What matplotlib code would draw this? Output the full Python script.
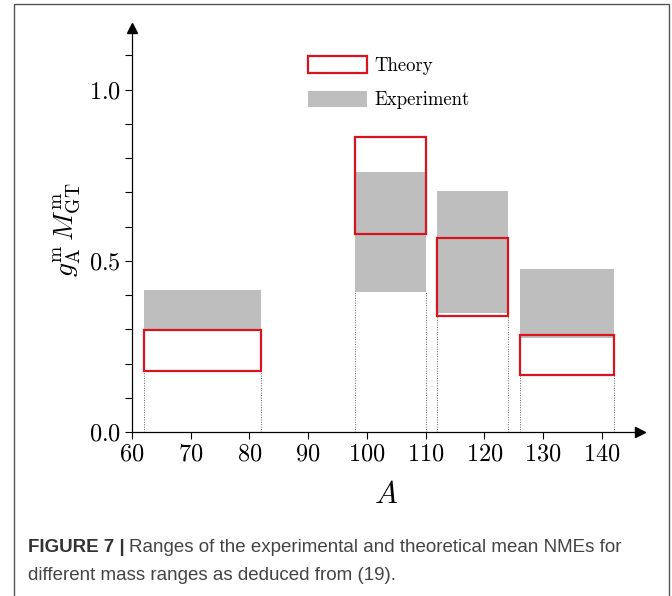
import numpy as np
from matplotlib import pyplot as plt
from matplotlib.patches import Rectangle, Patch

# Mass ranges (A) and NME ranges
a_lo = [62, 98, 112, 126]
a_hi = [82, 110, 124, 142]
exp_lo = [0.30, 0.41, 0.347, 0.275]
exp_hi = [0.415, 0.76, 0.703, 0.476]
th_lo = [0.178, 0.579, 0.340, 0.167]
th_hi = [0.298, 0.862, 0.568, 0.282]

red = '#d9141e'
grey = '#bebebe'

plt.rcParams['mathtext.fontset'] = 'cm'
plt.rcParams['font.family'] = 'serif'
plt.rcParams['font.serif'] = ['cmr10', 'DejaVu Serif']
plt.rcParams['axes.formatter.use_mathtext'] = True

fig = plt.figure(figsize=(6.72, 5.96), dpi=100)
ax = fig.add_axes([132 / 672, (596 - 432) / 596, (640 - 132) / 672, (432 - 28) / 596])

for i in range(len(a_lo)):
    w = a_hi[i] - a_lo[i]
    ax.add_patch(Rectangle((a_lo[i], exp_lo[i]), w, exp_hi[i] - exp_lo[i],
                           facecolor=grey, edgecolor='none', zorder=1))
    ax.add_patch(Rectangle((a_lo[i], th_lo[i]), w, th_hi[i] - th_lo[i],
                           facecolor='none', edgecolor=red, lw=1.6, zorder=3))
    low = min(exp_lo[i], th_lo[i])
    for x in (a_lo[i], a_hi[i]):
        ax.plot([x, x], [0, low], ls=(0, (1, 1.5)), color='#666666', lw=0.7, zorder=0)

ax.set_xlim(60, 146.5)
ax.set_ylim(0, 1.18)
ax.set_xticks(np.arange(60, 141, 10))
ax.set_xticklabels(['$%d$' % v for v in range(60, 141, 10)])
ax.set_yticks([0.0, 0.5, 1.0])
ax.set_yticklabels(['$0.0$', '$0.5$', '$1.0$'])
ax.set_yticks(np.arange(0, 1.15, 0.1), minor=True)
ax.tick_params(axis='both', labelsize=17.5, length=5, width=0.8, direction='out', pad=3)
ax.tick_params(axis='y', which='minor', length=5, width=0.8)
for s in ('top', 'right'):
    ax.spines[s].set_visible(False)
for s in ('left', 'bottom'):
    ax.spines[s].set_linewidth(0.9)

# arrow heads on the axes
ax.plot(1, 0, '>k', ms=7, transform=ax.transAxes, clip_on=False)
ax.plot(0, 1, '^k', ms=7, transform=ax.transAxes, clip_on=False)

ax.set_xlabel('$A$', fontsize=22, labelpad=12)
ax.set_ylabel(r'$g_{\rm A}^{\rm m}\,M_{\rm GT}^{\rm m}$', fontsize=20, labelpad=4)

handles = [Patch(facecolor='white', edgecolor=red, lw=1.6, label='Theory'),
           Patch(facecolor=grey, edgecolor='none', label='Experiment')]
ax.legend(handles=handles, loc='upper left', bbox_to_anchor=(0.313, 0.973),
          frameon=False, fontsize=13.5, handlelength=3.15, handleheight=1.0,
          labelspacing=0.85, handletextpad=0.4)

# frame around the figure and caption
fig.patches.append(Rectangle((14 / 672, -0.1), (669 - 14) / 672, 1.1 - 4 / 596,
                             transform=fig.transFigure, fill=False,
                             edgecolor='#555555', lw=1.0))
cap = ['Liberation Sans Narrow', 'Liberation Sans', 'DejaVu Sans']
y1 = 1 - 548 / 596
t = fig.text(28 / 672, y1, 'FIGURE 7 |', family=cap, fontsize=13.5,
             fontweight='bold', color='#333333', va='center')
fig.canvas.draw()
bb = t.get_window_extent()
fig.text((bb.x1 + 4) / 672, y1,
         'Ranges of the experimental and theoretical mean NMEs for',
         family=cap, fontsize=13.5, color='#444444', va='center')
fig.text(28 / 672, 1 - 575 / 596, 'different mass ranges as deduced from (19).',
         family=cap, fontsize=13.5, color='#444444', va='center')

fig.savefig('out.png', dpi=100)
